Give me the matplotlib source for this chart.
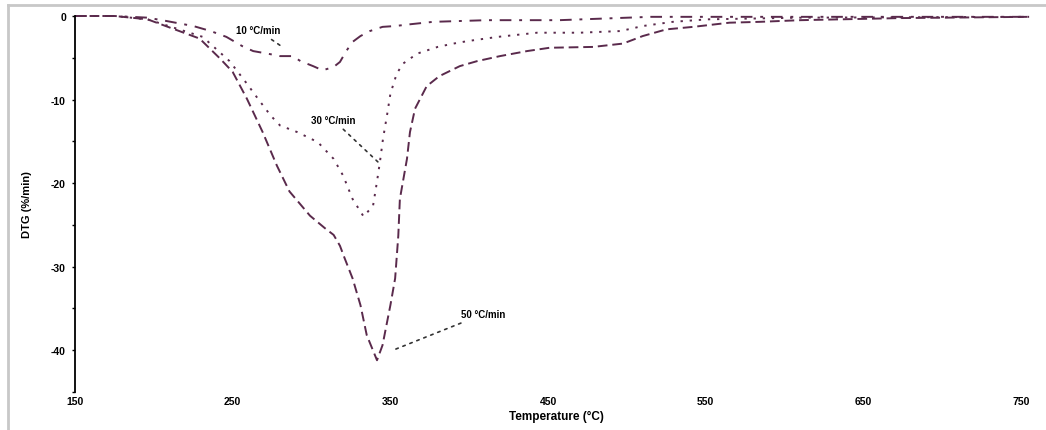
import matplotlib
matplotlib.use("Agg")
import matplotlib.pyplot as plt
from matplotlib.lines import Line2D

# Data (Temperature °C, DTG %/min)
t10 = [150, 175, 196, 208, 225, 236, 246, 256, 263, 272, 280, 288, 293, 301, 307, 314, 318, 322, 326, 331, 337, 345, 353, 362, 377, 411, 457, 515, 560, 620, 700, 755]
d10 = [0, 0, -0.2, -0.6, -1.2, -1.8, -2.5, -3.6, -4.2, -4.5, -4.8, -4.8, -5.4, -6.0, -6.5, -6.1, -5.5, -4.2, -3.1, -2.4, -1.8, -1.3, -1.2, -1.0, -0.7, -0.5, -0.5, -0.1, -0.1, -0.1, -0.1, -0.1]

t30 = [150, 175, 196, 231, 248, 259, 266, 274, 280, 291, 304, 314, 320, 326, 333, 339, 341.5, 343.4, 345.3, 348, 350, 354, 358, 367, 380, 390, 399, 418, 443, 470, 496, 510, 529, 551, 610, 680, 755]
d30 = [0, 0, -0.4, -2.5, -5.4, -8.1, -9.9, -11.9, -13.1, -13.9, -15.1, -17.1, -19.1, -21.9, -24.0, -22.7, -19.8, -17.4, -14.7, -11.7, -9.3, -6.9, -5.7, -4.5, -3.7, -3.3, -3.0, -2.5, -2.0, -2.0, -1.8, -1.2, -0.7, -0.4, -0.2, -0.15, -0.1]

t50 = [150, 175, 196, 229, 242, 250, 259, 269, 278, 286, 299, 308.5, 314, 318, 321, 326, 331, 335, 341.5, 345, 350, 353, 355, 356, 360.5, 362.4, 365.6, 373, 381, 394, 405, 419.5, 436.6, 451, 478.5, 497.5, 510, 525, 542, 565, 584, 610, 673, 755]
d50 = [0, 0, -0.4, -2.7, -5.1, -6.7, -9.9, -13.9, -17.9, -21.0, -23.9, -25.4, -26.2, -27.5, -29.0, -31.4, -34.6, -38.2, -41.2, -39.4, -34.6, -31.4, -26.3, -21.9, -17.1, -13.9, -11.1, -8.4, -7.2, -6.0, -5.4, -4.8, -4.2, -3.8, -3.7, -3.3, -2.4, -1.6, -1.3, -0.8, -0.7, -0.5, -0.25, -0.1]

labels = ["10 °C/min", "30 °C/min", "50 °C/min"]
xticks = [150, 250, 350, 450, 550, 650, 750]
yticks = [0, -10, -20, -30, -40]

color = "#5a2a4c"
plt.rcParams['font.family'] = ['Liberation Sans', 'DejaVu Sans']

fig = plt.figure(figsize=(10.46, 4.31), dpi=100)
W, H = 1046, 431
ax = fig.add_axes([75 / W, 1 - 393 / H, (1037 - 75) / W, (393 - 17) / H])

ax.plot(t10, d10, color=color, lw=1.4, ls=(0, (6, 4, 1.5, 4)), clip_on=False)
ax.plot(t30, d30, color=color, lw=1.4, ls=(0, (1.2, 3.5)), clip_on=False)
ax.plot(t50, d50, color=color, lw=1.4, ls=(0, (5, 2.5)), clip_on=False)

ax.set_xlim(150, 760)
ax.set_ylim(-45, 0)
for s in ["top", "right", "bottom"]:
    ax.spines[s].set_visible(False)
ax.spines["left"].set_color("black")
ax.spines["left"].set_linewidth(1.3)
ax.set_xticks(xticks)
ax.set_xticklabels([str(v) for v in xticks], fontsize=7.5, fontweight="bold")
ax.set_yticks(yticks)
ax.set_yticklabels([str(v) for v in yticks], fontsize=7.5, fontweight="bold")
ax.set_yticks([-5, -15, -25, -35, -45], minor=True)
ax.tick_params(axis="x", length=0, pad=3)
ax.tick_params(axis="y", which="both", length=2.5, width=1, pad=4)
ax.set_xlabel("Temperature (°C)", fontsize=8.5, fontweight="bold", labelpad=3)
ax.set_ylabel("DTG (%/min)", fontsize=8, fontweight="bold", labelpad=14)

ann = dict(arrowstyle="-", color="#333333", lw=1.2, ls=(0, (1.5, 3)))
ax.annotate(labels[0], xy=(283, -3.9), xytext=(266, -1.7), fontsize=7, fontweight="bold",
            ha="center", va="center", arrowprops=ann)
ax.annotate(labels[1], xy=(343.4, -17.7), xytext=(313.6, -12.4), fontsize=7, fontweight="bold",
            ha="center", va="center", arrowprops=ann)
ax.annotate(labels[2], xy=(351.6, -40.0), xytext=(408.7, -35.7), fontsize=7, fontweight="bold",
            ha="center", va="center", arrowprops=ann)

# light gray frame around the chart area
fig.add_artist(Line2D([8 / W, 1], [1 - 6 / H, 1 - 6 / H], color="#c8c8c8", lw=2, transform=fig.transFigure))
fig.add_artist(Line2D([8 / W, 8 / W], [0, 1 - 6 / H], color="#c8c8c8", lw=2, transform=fig.transFigure))

fig.savefig("out.png", dpi=100)
